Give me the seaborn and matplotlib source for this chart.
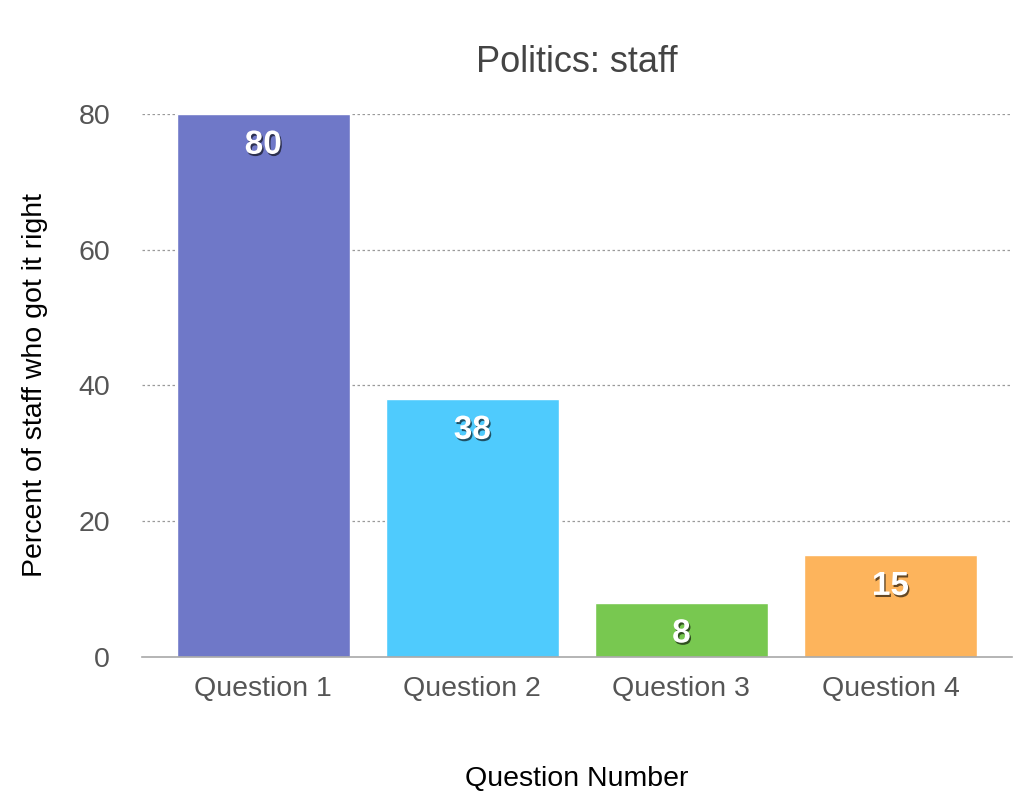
import matplotlib
matplotlib.use("Agg")
import matplotlib.pyplot as plt
import matplotlib.patheffects as pe
import pandas as pd
import seaborn as sns

# chart data
questions = ["Question 1", "Question 2", "Question 3", "Question 4"]
percent_right = [80, 38, 8, 15]
bar_colors = ["#6f78c8", "#4fcbfd", "#78c850", "#fdb45c"]
y_ticks = [0, 20, 40, 60, 80]

sns.set_theme(style="white")
plt.rcParams['font.family'] = ['Liberation Sans', 'DejaVu Sans']

df = pd.DataFrame({"question": questions, "percent": percent_right})

fig = plt.figure(figsize=(10.24, 8.02), dpi=100)
ax = fig.add_axes([0.1387, 0.1808, 0.8493, 0.6771])

sns.barplot(data=df, x="question", y="percent", hue="question",
            palette=bar_colors, width=0.83, saturation=1, legend=False, ax=ax)

ax.set_ylim(0, 80)
ax.set_xlim(-0.58, 3.58)
ax.set_yticks(y_ticks)
for y in y_ticks[1:]:
    ax.axhline(y, color="#9a9a9a", lw=0.9, ls=(0, (2, 2)), zorder=0)

for s in ["left", "right", "top"]:
    ax.spines[s].set_visible(False)
ax.spines["bottom"].set_color("#a8a8a8")
ax.spines["bottom"].set_linewidth(1.2)

ax.tick_params(axis="y", length=0, pad=23, labelsize=20.5, labelcolor="#555555")
ax.tick_params(axis="x", length=0, pad=14, labelsize=20.5, labelcolor="#555555")

ax.set_xlabel("Question Number", fontsize=20.5, color="black", labelpad=46)
ax.set_ylabel("Percent of staff who got it right", fontsize=20.5, color="black", labelpad=22)
fig.text(0.5635, 0.922, "Politics: staff", fontsize=26, color="#444444",
         ha="center", va="center")

# value labels inside bars
for i, v in enumerate(percent_right):
    ax.annotate(str(v), xy=(i, v), xytext=(0, -22.5), textcoords="offset points",
                ha="center", va="center", fontsize=24, fontweight="bold", color="white",
                path_effects=[pe.withSimplePatchShadow(offset=(1, -1.5),
                                                        shadow_rgbFace="black", alpha=0.6)])

fig.savefig("out.png", dpi=100)
